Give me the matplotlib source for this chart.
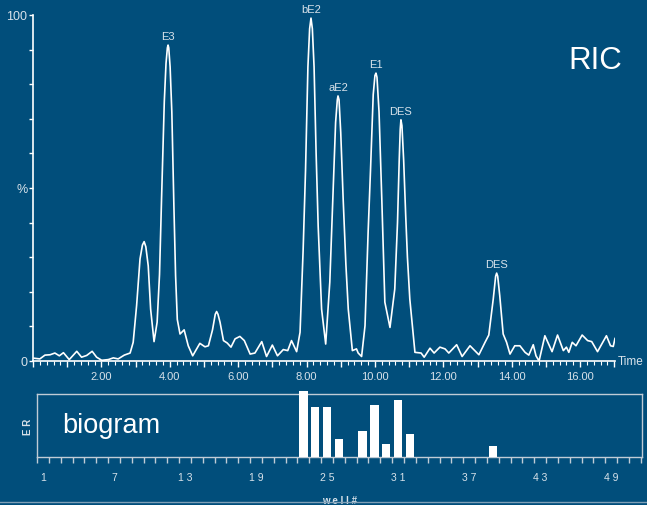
import matplotlib
matplotlib.use("Agg")
import matplotlib.pyplot as plt
from matplotlib.lines import Line2D

plt.rcParams['font.family'] = ['Liberation Sans', 'DejaVu Sans']

# chromatogram trace (retention time in min, relative intensity in %)
rt = [0.03, 0.20, 0.35, 0.50, 0.64, 0.77, 0.89, 1.06, 1.28, 1.42, 1.57, 1.73, 1.86, 2.01,
      2.20, 2.35, 2.49, 2.67, 2.84, 2.93, 3.03, 3.13, 3.20, 3.25, 3.30, 3.37, 3.44, 3.54,
      3.63, 3.70, 3.76, 3.84, 3.89, 3.93, 3.95, 3.97, 4.01, 4.06, 4.12, 4.17, 4.22, 4.30,
      4.42, 4.54, 4.67, 4.88, 5.03, 5.13, 5.25, 5.33, 5.37, 5.41, 5.47, 5.57, 5.68, 5.79,
      5.91, 6.05, 6.18, 6.35, 6.49, 6.69, 6.83, 7.00, 7.15, 7.32, 7.45, 7.56, 7.71, 7.81,
      7.90, 7.97, 8.04, 8.09, 8.13, 8.17, 8.22, 8.28, 8.34, 8.44, 8.56, 8.68, 8.78, 8.85,
      8.90, 8.92, 8.95, 9.00, 9.07, 9.15, 9.22, 9.34, 9.46, 9.51, 9.61, 9.71, 9.80, 9.87,
      9.95, 10.00, 10.03, 10.06, 10.12, 10.20, 10.29, 10.44, 10.58, 10.66, 10.71, 10.74,
      10.76, 10.79, 10.84, 10.90, 10.95, 11.02, 11.17, 11.35, 11.44, 11.61, 11.73, 11.90,
      12.05, 12.16, 12.39, 12.55, 12.78, 13.04, 13.22, 13.33, 13.46, 13.53, 13.56, 13.59,
      13.65, 13.75, 13.85, 13.95, 14.09, 14.24, 14.39, 14.50, 14.63, 14.71, 14.80, 14.97,
      15.18, 15.34, 15.51, 15.60, 15.67, 15.77, 15.88, 16.06, 16.22, 16.34, 16.51, 16.77,
      16.89, 16.97, 17.02]
pct = [0.8, 0.6, 1.7, 1.8, 2.3, 1.5, 2.4, 0.4, 2.8, 1.1, 1.6, 2.8, 1.1, 0.2,
       0.4, 0.9, 0.6, 1.7, 2.3, 5.4, 16, 29.5, 33.5, 34.5, 33, 27.5, 15, 5.6,
       11.2, 25, 47, 75, 86, 90.5, 91.3, 90.5, 85, 72, 45, 24.7, 12, 7.8,
       9, 4.4, 1.5, 5.1, 4.1, 4.4, 9, 13.5, 14.3, 13.5, 11.2, 5.9, 5.2, 4.0,
       6.4, 7.1, 5.9, 2.0, 2.3, 5.6, 1.3, 4.6, 1.5, 3.3, 3.0, 5.9, 2.7, 8.3,
       32, 55, 85, 96, 99.1, 96, 85, 60, 39, 15, 4.9, 22.8, 50, 69,
       75.5, 76.6, 75.5, 66, 47, 28, 15, 3, 3.5, 2.3, 1.3, 10.2, 37, 55,
       77, 82.5, 83.2, 82, 72, 47, 17, 9.7, 20.8, 40, 58, 67,
       69.7, 68, 58, 42, 30, 17.9, 2.5, 2.3, 1.1, 3.7, 2.3, 4.0,
       3.5, 2.3, 4.7, 1.3, 4.4, 1.8, 5.4, 7.5, 17.9, 24.5, 25.4, 24.5,
       18.9, 7.8, 5.4, 2.0, 4.4, 4.4, 2.5, 1.7, 4.7, 1.5, 0.0, 7.3,
       2.7, 7.5, 3.0, 4.0, 2.5, 5.4, 4.4, 7.5, 5.9, 5.6, 2.7, 7.3,
       4.4, 4.2, 6.5]

peak_names = ['E3', 'bE2', 'aE2', 'E1', 'DES', 'DES']
peak_rt = [3.95, 8.13, 8.92, 10.03, 10.76, 13.56]
peak_pct = [91.3, 99.1, 76.6, 83.2, 69.7, 25.4]

# biogram (well number, estrogen response)
wells = [23, 24, 25, 26, 28, 29, 30, 31, 32, 39]
er = [104, 80, 80, 29, 42, 82, 21, 90, 37, 18]
well_labels = ['1', '7', '1 3', '1 9', '2 5', '3 1', '3 7', '4 3', '4 9']
well_ticks = [1, 7, 13, 19, 25, 31, 37, 43, 49]

bg = '#014e7b'
fg = '#d8e2ea'

fig = plt.figure(figsize=(6.47, 5.06), dpi=100, facecolor=bg)

# --- chromatogram ---
ax = fig.add_axes([0.051, 0.2846, 0.8995, 0.6838], facecolor=bg)
ax.plot(rt, pct, color='white', lw=1.2)
ax.set_xlim(0, 17.02)
ax.set_ylim(0, 100)
for s in ['top', 'right']:
    ax.spines[s].set_visible(False)
for s in ['left', 'bottom']:
    ax.spines[s].set_color('white')
    ax.spines[s].set_linewidth(1.2)
ax.set_xticks(list(range(0, 18)))
ax.set_xticklabels(['%.2f' % t if t % 2 == 0 and t > 0 else '' for t in range(0, 18)])
ax.set_xticks([i * 0.2 for i in range(86)], minor=True)
ax.tick_params(axis='x', which='major', length=4, width=1, color='white',
               labelcolor=fg, labelsize=8, pad=3)
ax.tick_params(axis='x', which='minor', length=3, width=0.8, color='white')
ax.set_yticks(list(range(0, 101, 10)))
ax.set_yticklabels(['0', '', '', '', '', '%', '', '', '', '', '100'])
ax.tick_params(axis='y', length=3, width=1, color='white', labelcolor=fg,
               labelsize=9, pad=1)
ax.text(17.1, 0, 'Time', color=fg, fontsize=8.5, va='center', ha='left', clip_on=False)

for name, t, p in zip(peak_names, peak_rt, peak_pct):
    ax.annotate(name, (t, p), xytext=(0, 3), textcoords='offset points',
                ha='center', va='bottom', color=fg, fontsize=8)
ax.text(1.012, 0.87, 'RIC', transform=ax.transAxes, color='white', fontsize=22.5,
        ha='right', va='center')

# --- biogram ---
bx = fig.add_axes([0.0572, 0.0949, 0.935, 0.1245], facecolor=bg)
bx.bar(wells, er, width=0.7, color='white', clip_on=False, zorder=3)
bx.set_xlim(0.5, 51.6)
bx.set_ylim(0, 100)
for s in bx.spines.values():
    s.set_color('#c0ccd6')
    s.set_linewidth(1)
bx.set_yticks([])
bx.set_xticks([i + 0.5 for i in range(52)])
bx.set_xticklabels([])
bx.set_xticks(well_ticks, minor=True)
bx.set_xticklabels(well_labels, minor=True)
bx.tick_params(axis='x', which='major', length=4, width=1, color='#c0ccd6', direction='out')
bx.tick_params(axis='x', which='minor', length=0, labelcolor=fg, labelsize=7.5, pad=11)
bx.set_ylabel('E R', color=fg, fontsize=7, fontweight='bold', labelpad=3)
bx.set_xlabel('w e l l #', color=fg, fontsize=7, fontweight='bold', labelpad=9)
bx.text(0.042, 0.5, 'biogram', transform=bx.transAxes, color='white', fontsize=19.5,
        ha='left', va='center')

fig.add_artist(Line2D([0, 1], [0.005, 0.005], color='#7f9fb6', lw=1))

fig.savefig('out.png', dpi=100, facecolor=bg)
